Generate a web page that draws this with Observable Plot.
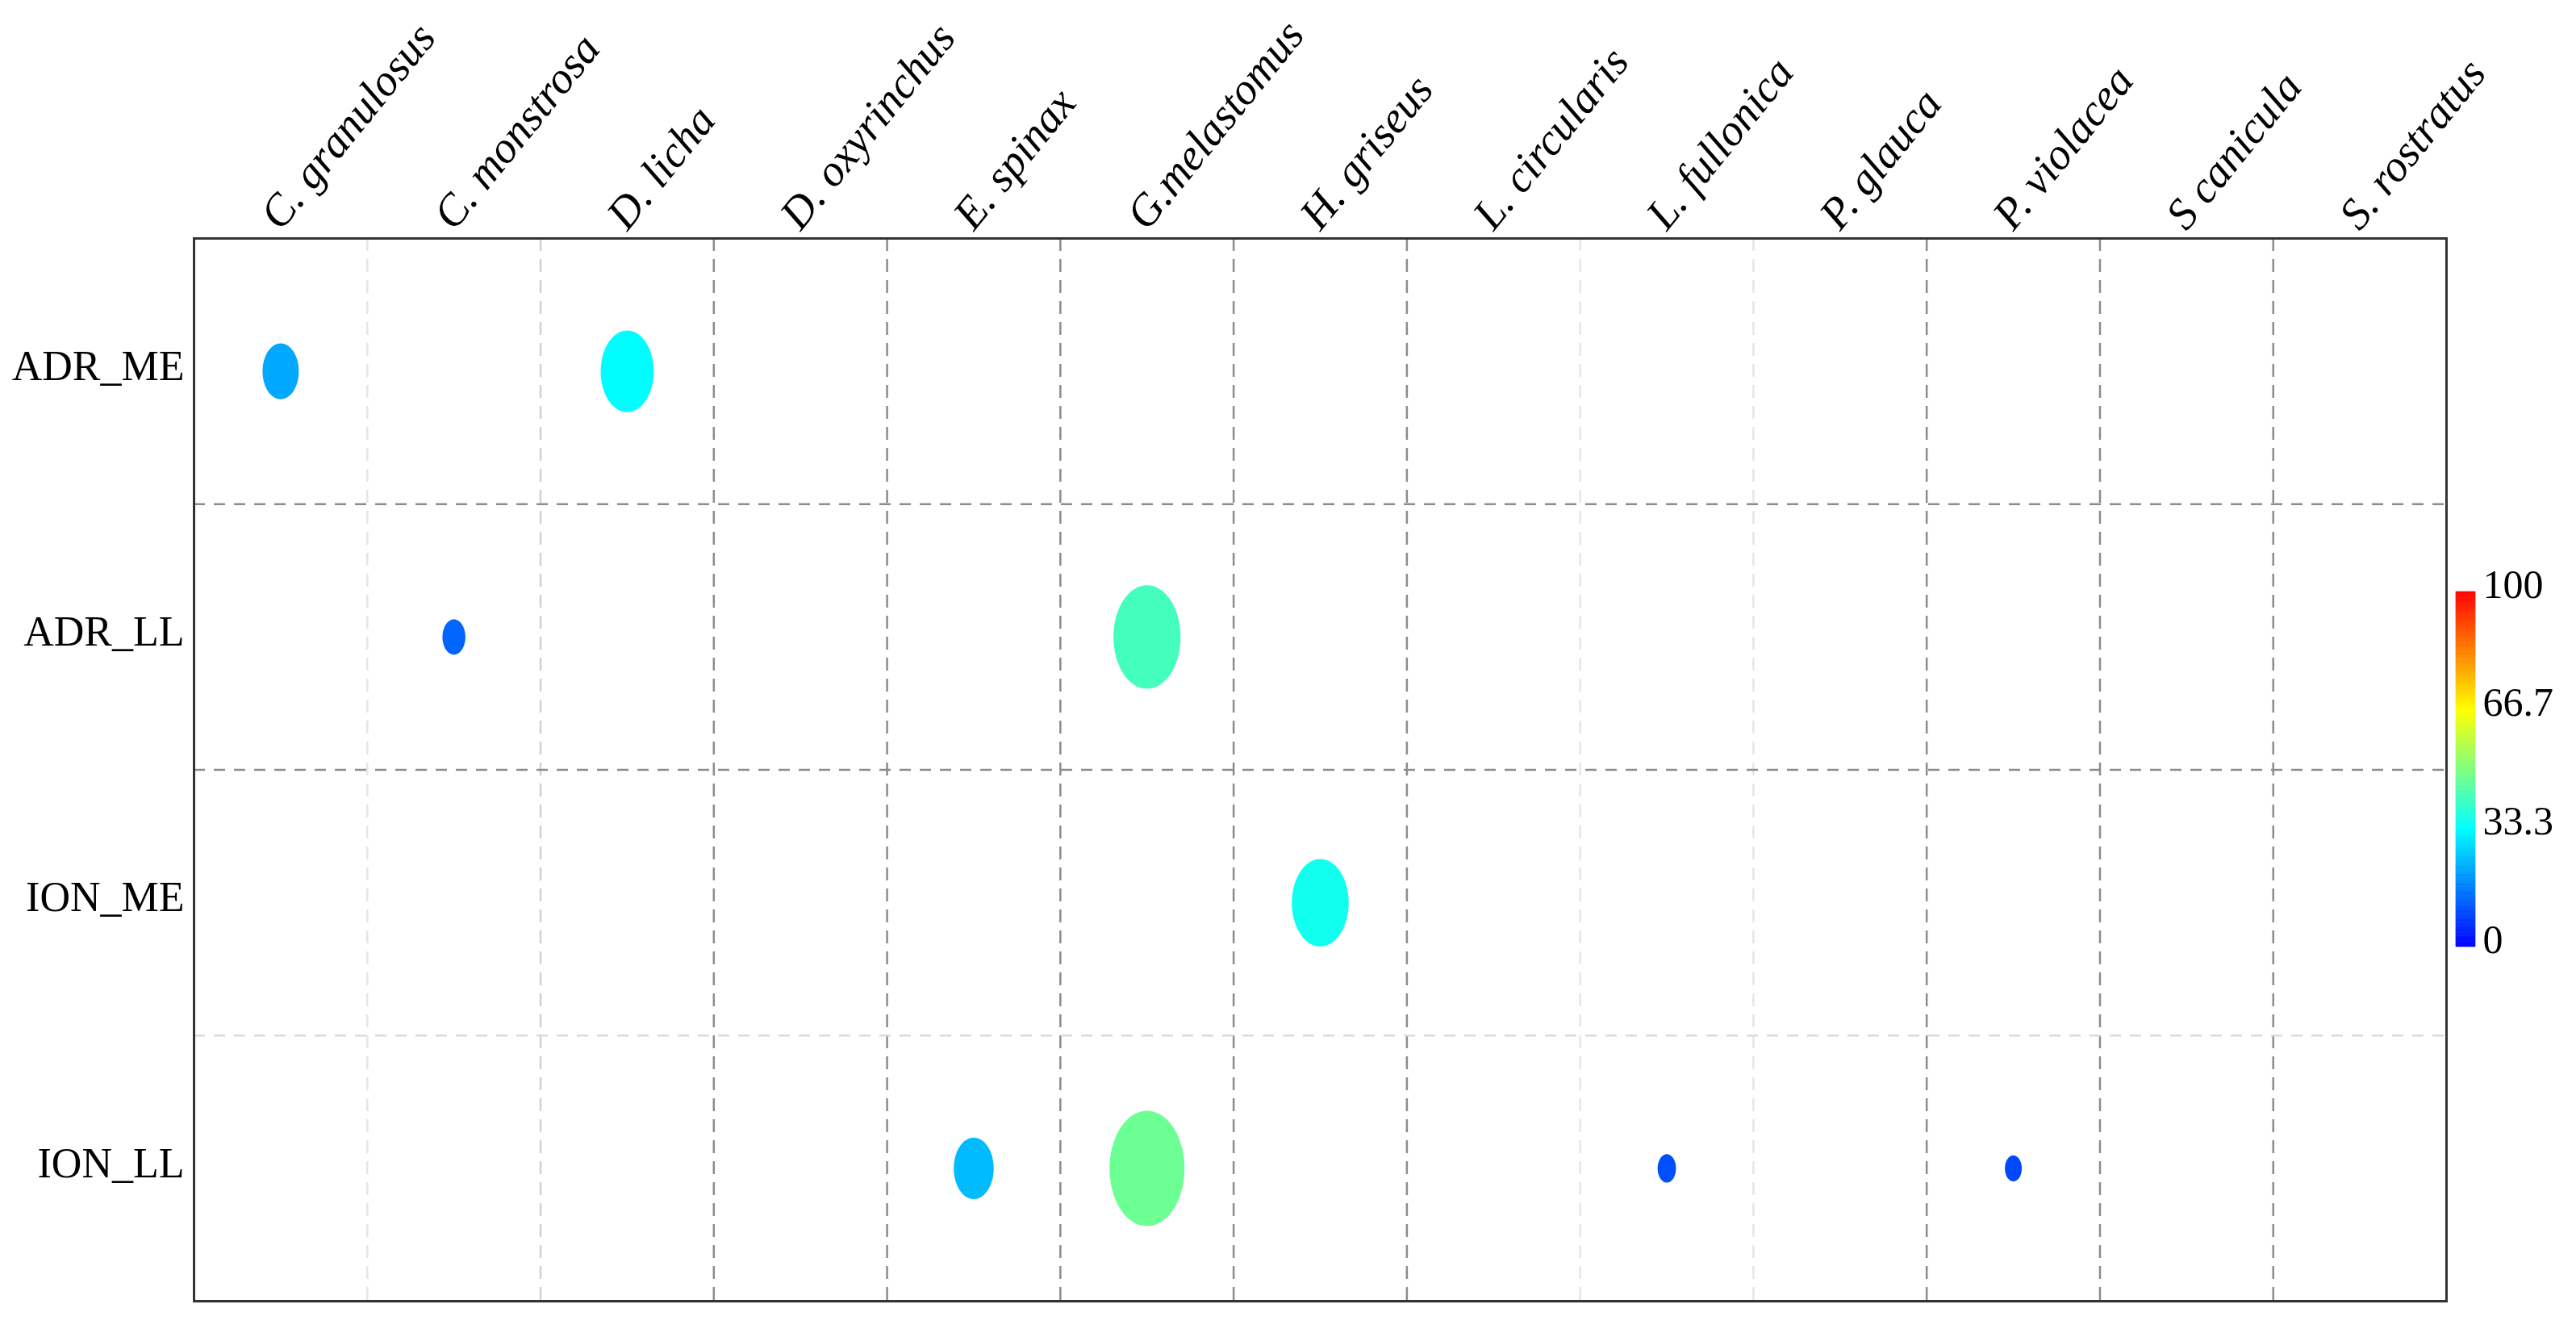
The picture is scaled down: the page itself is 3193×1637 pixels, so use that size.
<!DOCTYPE html>
<html>
<head>
<meta charset="utf-8">
<script src="https://cdn.jsdelivr.net/npm/d3@7"></script>
<script src="https://cdn.jsdelivr.net/npm/@observablehq/plot@0.6"></script>
<style>
  html, body { margin: 0; padding: 0; background: #fff; }
  #wrap { position: relative; width: 3193px; height: 1637px; overflow: hidden; }
  #main { position: absolute; left: 0; top: 0; }
  #legend { position: absolute; left: 3030px; top: 690px; }
</style>
</head>
<body>
<div id="wrap"><div id="main"></div><div id="legend"></div></div>
<script>
// ---- data ----
const species = ["C. granulosus", "C. monstrosa", "D. licha", "D. oxyrinchus", "E. spinax",
  "G.melastomus", "H. griseus", "L. circularis", "L. fullonica", "P. glauca",
  "P. violacea", "S canicula", "S. rostratus"];
const areas = ["ADR_ME", "ADR_LL", "ION_ME", "ION_LL"];

const obsArea    = ["ADR_ME", "ADR_ME", "ADR_LL", "ADR_LL", "ION_ME", "ION_LL", "ION_LL", "ION_LL", "ION_LL"];
const obsSpecies = ["C. granulosus", "D. licha", "C. monstrosa", "G.melastomus", "H. griseus",
  "E. spinax", "G.melastomus", "L. fullonica", "P. violacea"];
const obsValue   = [22, 33, 13.3, 42.2, 35.5, 24.4, 47.3, 10.4, 9.4];

const legendTicks = [0, 33.3, 66.7, 100];
const legendTickLabels = ["0", "33.3", "66.7", "100"];
const jetColors = ["#0000ff", "#00ffff", "#ffff00", "#ff0000"];

// ---- build ----
const obs = obsValue.map((v, i) => ({area: obsArea[i], species: obsSpecies[i], value: v}));

const ellipse = {
  draw(ctx, size) {
    const r = Math.sqrt(size / Math.PI);
    const rx = r * 0.65, ry = r, k = 0.5522847498;
    ctx.moveTo(rx, 0);
    ctx.bezierCurveTo(rx, ry * k, rx * k, ry, 0, ry);
    ctx.bezierCurveTo(-rx * k, ry, -rx, ry * k, -rx, 0);
    ctx.bezierCurveTo(-rx, -ry * k, -rx * k, -ry, 0, -ry);
    ctx.bezierCurveTo(rx * k, -ry, rx, -ry * k, rx, 0);
    ctx.closePath();
  }
};

const colorScale = {type: "linear", domain: legendTicks, range: jetColors, interpolate: "rgb"};
const font = "'Liberation Serif', 'Times New Roman', serif";

const darkV = [3, 4, 5, 6, 7, 10, 11, 12];
const midV = [2];
const faintV = [1, 8, 9];
const darkH = [1, 2];
const faintH = [3];

const main = Plot.plot({
  width: 3193,
  height: 1637,
  marginLeft: 240,
  marginRight: 161,
  marginTop: 295,
  marginBottom: 25,
  style: {fontFamily: font, fontSize: "50px", color: "#000", background: "#fff", overflow: "visible"},
  x: {domain: [0, species.length], axis: null},
  y: {domain: [0, areas.length], reverse: true, axis: null},
  color: colorScale,
  r: {type: "linear", domain: [0, 100], range: [2.4, 148.4]},
  marks: [
    Plot.ruleX(faintV, {x: d => d, stroke: "#e6e6e6", strokeWidth: 2.5, strokeDasharray: "16,10"}),
    Plot.ruleX(midV, {x: d => d, stroke: "#d0d0d0", strokeWidth: 2.5, strokeDasharray: "16,10"}),
    Plot.ruleX(darkV, {x: d => d, stroke: "#8c8c8c", strokeWidth: 2.5, strokeDasharray: "16,10"}),
    Plot.ruleY(faintH, {y: d => d, stroke: "#dadada", strokeWidth: 2.5, strokeDasharray: "14,11"}),
    Plot.ruleY(darkH, {y: d => d, stroke: "#8c8c8c", strokeWidth: 2.5, strokeDasharray: "14,11"}),
    Plot.dot(obs, {
      x: d => species.indexOf(d.species) + 0.5,
      y: d => areas.indexOf(d.area) + 0.5,
      r: "value",
      fill: "value",
      symbol: ellipse,
      stroke: null
    }),
    Plot.frame({stroke: "#333", strokeWidth: 3}),
    Plot.text(species, {
      x: (d, i) => i + 0.5,
      text: d => d,
      frameAnchor: "top",
      rotate: -51,
      textAnchor: "start",
      lineAnchor: "bottom",
      fontStyle: "italic",
      fontSize: 55,
      dx: 0,
      dy: -8,
      fill: "#000"
    }),
    Plot.text(areas, {
      y: (d, i) => i + 0.5,
      text: d => d,
      frameAnchor: "left",
      textAnchor: "end",
      fontSize: 52,
      dx: -12,
      dy: -6,
      fill: "#000"
    })
  ]
});
document.getElementById("main").appendChild(main);

// ---- colorbar ----
const steps = d3.range(0, 100, 0.5);
const legend = Plot.plot({
  width: 163,
  height: 520,
  marginTop: 43,
  marginBottom: 37,
  marginLeft: 14,
  marginRight: 125,
  style: {fontFamily: font, fontSize: "50px", color: "#000", background: "transparent", overflow: "visible"},
  x: {domain: [0, 1], axis: null},
  y: {domain: [0, 100], axis: null},
  color: colorScale,
  marks: [
    Plot.rect(steps, {x1: () => 0, x2: () => 1, y1: d => d, y2: d => d + 0.5,
      fill: d => d + 0.25, stroke: d => d + 0.25, strokeWidth: 0.6}),
    Plot.text(legendTicks, {x: () => 1, y: d => d, text: (d, i) => legendTickLabels[i],
      textAnchor: "start", dx: 9, dy: -9, fontSize: 50, fill: "#000"})
  ]
});
document.getElementById("legend").appendChild(legend);
</script>
</body>
</html>
